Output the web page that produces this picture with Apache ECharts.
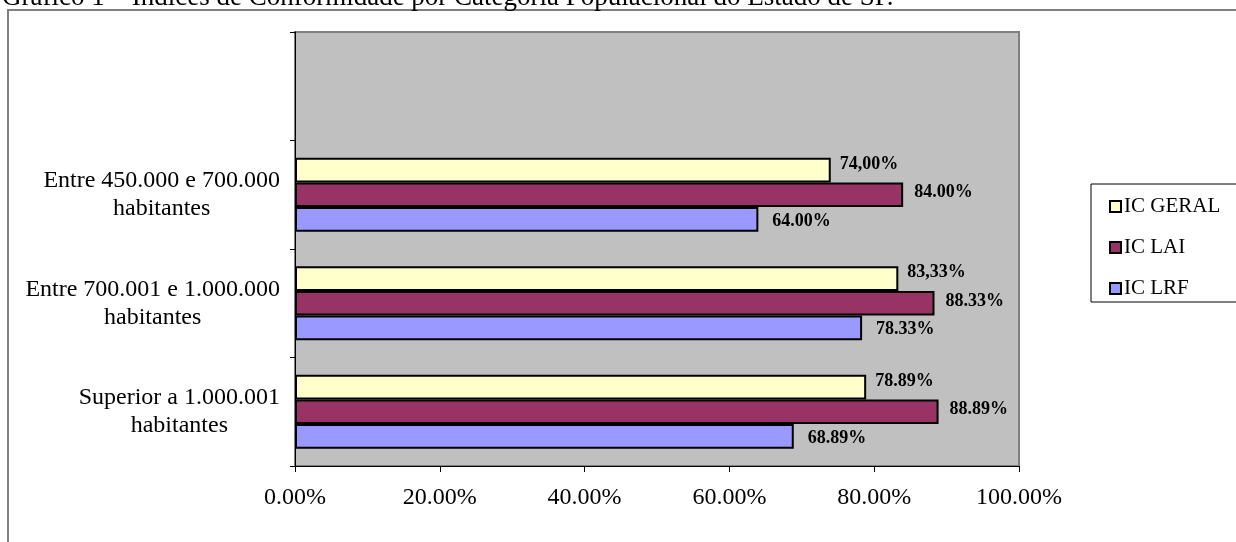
<!DOCTYPE html>
<html>
<head>
<meta charset="utf-8">
<script src="https://cdn.jsdelivr.net/npm/echarts@6/dist/echarts.min.js"></script>
<style>
  html, body { margin: 0; padding: 0; background: #fff; }
  #chart { width: 1236px; height: 542px; }
</style>
</head>
<body>
<div id="chart"></div>
<script>
// categories from bottom to top (the top one is empty in the original)
var categories = ['Superior a 1.000.001\nhabitantes', 'Entre 700.001 e 1.000.000\nhabitantes', 'Entre 450.000 e 700.000\nhabitantes', ''];
var seriesNames = ['IC GERAL', 'IC LAI', 'IC LRF'];
var icGeral = [78.89, 83.33, 74.00, null];
var icLai = [88.89, 88.33, 84.00, null];
var icLrf = [68.89, 78.33, 64.00, null];
// labels as printed in the original (mixed decimal marks)
var geralLabels = ['78.89%', '83,33%', '74,00%', ''];
var laiLabels = ['88.89%', '88.33%', '84.00%', ''];
var lrfLabels = ['68.89%', '78.33%', '64.00%', ''];
var xTickLabels = ['0.00%', '20.00%', '40.00%', '60.00%', '80.00%', '100.00%'];

var serif = '"Liberation Serif", "Times New Roman", serif';
var chart = echarts.init(document.getElementById('chart'), null, { renderer: 'canvas' });

function barSeries(name, data, labels, color, offsetY, dist) {
  return {
    name: name,
    type: 'bar',
    data: data,
    barGap: 0,
    barCategoryGap: '32%',
    itemStyle: { color: color, borderColor: '#000', borderWidth: 2 },
    label: {
      show: true,
      position: 'right',
      distance: dist,
      offset: [0, offsetY],
      fontFamily: serif,
      fontWeight: 'bold',
      fontSize: 18,
      color: '#000',
      formatter: function (p) { return labels[p.dataIndex]; }
    },
    emphasis: { disabled: true }
  };
}

var option = {
  animation: false,
  backgroundColor: '#fff',
  textStyle: { fontFamily: serif },
  graphic: [
    {
      type: 'rect',
      z: -10,
      shape: { x: 8, y: 10, width: 1300, height: 600 },
      style: { fill: 'none', stroke: '#808080', lineWidth: 2 }
    },
    {
      type: 'text',
      x: 2,
      y: 11,
      style: {
        text: 'Gráfico 1 – Índices de Conformidade por Categoria Populacional do Estado de SP.',
        font: '27px ' + serif,
        fill: '#000',
        textVerticalAlign: 'bottom'
      }
    },
    {
      type: 'rect',
      z: 1,
      shape: { x: 1091, y: 184, width: 160, height: 118 },
      style: { fill: '#fff', stroke: '#000', lineWidth: 1 }
    }
  ],
  legend: {
    data: seriesNames,
    orient: 'vertical',
    left: 1109,
    top: 196,
    padding: 0,
    itemWidth: 11,
    itemHeight: 11,
    itemGap: 20,
    icon: 'rect',
    selectedMode: false,
    textStyle: { fontFamily: serif, fontSize: 21, color: '#000', padding: [0, 0, 0, -2] }
  },
  grid: {
    left: 295,
    right: 217,
    top: 32,
    bottom: 76,
    show: true,
    backgroundColor: '#C0C0C0',
    borderColor: '#808080',
    borderWidth: 2
  },
  xAxis: {
    type: 'value',
    min: 0,
    max: 100,
    interval: 20,
    splitLine: { show: false },
    axisLine: { show: true, lineStyle: { color: '#000', width: 1 } },
    axisTick: { show: true, length: 6, lineStyle: { color: '#000' } },
    axisLabel: {
      margin: 20,
      fontFamily: serif,
      fontSize: 24,
      color: '#000',
      formatter: function (v) { return xTickLabels[v / 20]; }
    }
  },
  yAxis: {
    type: 'category',
    data: categories,
    axisLine: { show: true, lineStyle: { color: '#000', width: 1 } },
    axisTick: { show: true, length: 5, lineStyle: { color: '#000' } },
    axisLabel: {
      margin: 15,
      color: '#000',
      formatter: function (v) {
        if (!v) return '';
        return v.split('\n').map(function (l) { return '{a|' + l + '}'; }).join('\n');
      },
      rich: {
        a: { align: 'center', fontFamily: serif, fontSize: 24, lineHeight: 28, color: '#000' }
      }
    }
  },
  // first series is drawn at the top of each band
  series: [
    barSeries('IC GERAL', icGeral, geralLabels, '#FFFFCC', -6, 9),
    barSeries('IC LAI', icLai, laiLabels, '#993366', -2, 11),
    barSeries('IC LRF', icLrf, lrfLabels, '#9999FF', 2, 14)
  ]
};
chart.setOption(option);
</script>
</body>
</html>
